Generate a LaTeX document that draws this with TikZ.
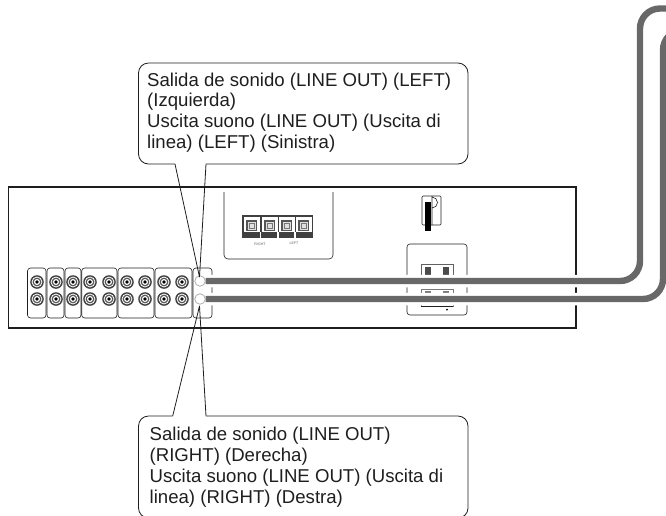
\documentclass[tikz,border=0pt]{standalone}
\usepackage{fontspec}
\usepackage{xcolor}
\setmainfont{Liberation Sans}
\usetikzlibrary{arrows.meta, positioning, calc}
\definecolor{cablegray}{RGB}{104, 104, 104}
\definecolor{inkblack}{RGB}{30, 30, 30}
\tikzset{
  panelline/.style={draw=inkblack, line width=0.9pt},
  thinline/.style={draw=inkblack, line width=0.6pt},
  calloutline/.style={draw=inkblack, line width=0.8pt, line join=round},
  callouttext/.style={font=\fontsize{18.6}{20.8}\selectfont, align=left, anchor=north west, inner sep=0pt, text=inkblack},
  tinylabel/.style={font=\fontsize{3.6}{4}\selectfont, text=inkblack!70, inner sep=0pt},
  cablehalo/.style={draw=white, line width=12.5pt, rounded corners=20pt},
  cableline/.style={draw=cablegray, line width=6.4pt, rounded corners=20pt},
  jackend/.style={circle, draw=cablegray!60, line width=0.7pt, fill=white, minimum size=10.5pt, inner sep=0pt}
}
\begin{document}
\begin{tikzpicture}[x=1pt, y=-1pt]
        \clip (0,0) rectangle (666,515);
        % Rear panel
        \draw[panelline, line width=1.1pt] (8.5,187) rectangle (576,328);
        % Jack groups
        \foreach \xa/\xb in {27.5/46, 47/64, 65/81, 81.7/117, 118/154, 155/192, 193/212}{
          \draw[thinline, rounded corners=3pt] (\xa,268) rectangle (\xb,318);
        }
        % Jacks
        \foreach \x in {37,56,73,90,109,127,145,164,182}{
          \foreach \y in {282,299}{
            \fill[inkblack!85] (\x,\y) circle (6.8pt);
            \fill[white] (\x,\y) circle (5.4pt);
            \fill[inkblack!75] (\x,\y) circle (4.4pt);
            \fill[white] (\x,\y) circle (3pt);
            \fill[black] (\x,\y) circle (1.8pt);
          }
        }
        % Speaker terminals
        \draw[thinline, rounded corners=4pt] (224,192) -- (224,259) -- (333,259) -- (333,192);
        \fill[inkblack!85] (242,215) rectangle (313,238);
        \foreach \x in {244,262,279,296}{
          \fill[white] (\x,217) rectangle ++(15.5,15);
          \draw[inkblack!75, line width=1.2pt, fill=black!12] (\x+3,221) rectangle ++(9.5,9.5);
          \draw[inkblack!60, line width=0.6pt] (\x+5.5,223.5) rectangle ++(4.5,4.5);
        }
        \foreach \x in {260.5,278,295}{
          \fill[white] (\x-0.8,232) rectangle ++(1.6,6);
        }
        \node[tinylabel] (rightlabel) at (260,244.5) {RIGHT};
        \node[tinylabel] (leftlabel) at (294,243.5) {LEFT};
        % Power switch
        \draw[thinline, rounded corners=1pt] (422,196) rectangle (441,225);
        \draw[thinline] (432,196) -- (432,208) arc[start angle=90, end angle=-90, radius=5.5] -- (432,225);
        \fill[black] (425,202) rectangle (430.5,231);
        % Outlet
        \draw[thinline, rounded corners=3pt] (407,244) rectangle (467,315);
        \draw[thinline, draw=inkblack!70, line width=1pt] (421,264) rectangle (453,285);
        \fill[inkblack!80] (425,267) rectangle (431,280);
        \fill[inkblack!80] (443,267) rectangle (449,280);
        \draw[thinline, draw=inkblack!60, line width=0.9pt] (421,307) -- (421,289.5) -- (453,289.5) -- (453,307);
        \fill[inkblack!60] (425,291) rectangle (431,297);
        \fill[inkblack!60] (443,291) rectangle (449,297);
        \draw[inkblack, line width=1pt] (421,306.5) -- (453,306.5);
        \fill[black] (447,309.6) circle (1.1pt);
        % Plugs
        \node[jackend] (plugleft) at (200,281) {};
        \node[jackend] (plugright) at (200,299) {};
        \coordinate (cableleftend) at (690,8.5);
        \coordinate (cablerightend) at (690,30);
        % Cables
        \draw[cablehalo] (plugleft.east) -- (640,281) -- (640,8.5) -- (cableleftend);
        \draw[cablehalo] (plugright.east) -- (663,299) -- (663,30) -- (cablerightend);
        \draw[cableline] (plugleft.east) -- (640,281) -- (640,8.5) -- (cableleftend);
        \draw[cableline] (plugright.east) -- (663,299) -- (663,30) -- (cablerightend);
        % Callouts
        \coordinate (tipleft) at (199.5,277);
        \coordinate (tipright) at (199.5,306);
        \draw[calloutline, rounded corners=10pt] (175,164) -- (138.5,164) -- (138.5,63)
          -- (468,63) -- (468,164) -- (206,164);
        \draw[calloutline] (175,164) -- (tipleft) -- (206,164);
        \draw[calloutline, rounded corners=10pt] (172.7,416) -- (138.5,416) -- (138.5,518)
          -- (468,518) -- (468,416) -- (206,416);
        \draw[calloutline] (172.7,416) -- (tipright) -- (206,416);
        \node[callouttext] (lefttext) at (147,72.5) {Salida de sonido (LINE OUT) (LEFT)\\(Izquierda)\\Uscita suono (LINE OUT) (Uscita di\\linea) (LEFT) (Sinistra)};
        \node[callouttext] (righttext) at (149.5,427) {Salida de sonido (LINE OUT)\\(RIGHT) (Derecha)\\Uscita suono (LINE OUT) (Uscita di\\linea) (RIGHT) (Destra)};
      \end{tikzpicture}
\end{document}
